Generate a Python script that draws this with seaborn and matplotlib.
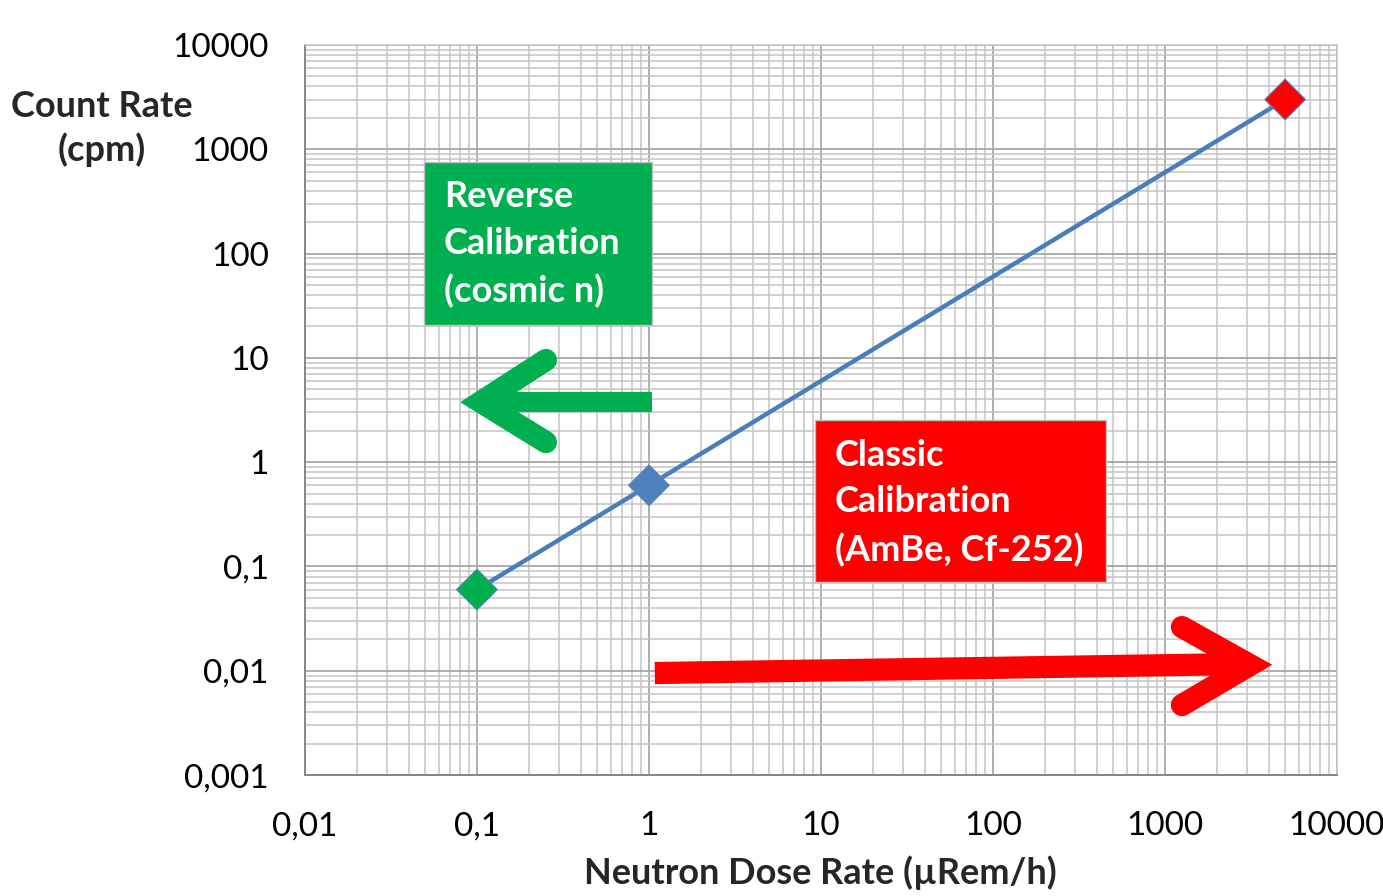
import matplotlib
matplotlib.use("Agg")
import matplotlib.pyplot as plt
import seaborn as sns
import pandas as pd
import numpy as np

# data
dose_rate = [0.1, 1, 5000]          # µRem/h
count_rate = [0.06, 0.6, 3000]      # cpm
point_kind = ["reverse", "mid", "classic"]
point_colors = {"reverse": "#00B050", "mid": "#4F81BD", "classic": "#FF0000"}

x_ticks = [0.01, 0.1, 1, 10, 100, 1000, 10000]
x_labels = ["0,01", "0,1", "1", "10", "100", "1000", "10000"]
y_ticks = [0.001, 0.01, 0.1, 1, 10, 100, 1000, 10000]
y_labels = ["0,001", "0,01", "0,1", "1", "10", "100", "1000", "10000"]

sns.set_style("white")
plt.rcParams["font.family"] = ["Lato", "DejaVu Sans"]

df = pd.DataFrame({"dose": dose_rate, "count": count_rate, "kind": point_kind})

fig = plt.figure(figsize=(13.83, 8.96), dpi=100)
ax = fig.add_axes([0.2205, 0.135, 0.7462, 0.8148])
ax.set_xscale("log")
ax.set_yscale("log")
ax.set_xlim(0.01, 10000)
ax.set_ylim(0.001, 10000)

# grid
ax.minorticks_on()
ax.grid(which="minor", color="#C4C4C4", linewidth=1.1)
ax.grid(which="major", color="#A8A8A8", linewidth=1.3)
ax.set_axisbelow(True)

sns.lineplot(data=df, x="dose", y="count", ax=ax, color="#4A7EBB", linewidth=3.2, zorder=3)
sns.scatterplot(data=df, x="dose", y="count", hue="kind", palette=point_colors, marker="D",
                s=430, edgecolor="#5B7FB5", linewidth=0.8, legend=False, ax=ax, zorder=4)

ax.set_xticks(x_ticks, x_labels)
ax.set_yticks(y_ticks, y_labels)
ax.tick_params(which="minor", length=0)
ax.tick_params(which="major", direction="out", length=8, width=1.3, color="#868686",
               labelsize=24, colors="#868686", labelcolor="black")
ax.tick_params(axis="x", pad=18)
ax.tick_params(axis="y", pad=18)
ax.set_xlabel("")
ax.set_ylabel("")
for side in ["left", "bottom"]:
    ax.spines[side].set_color("#868686")
    ax.spines[side].set_linewidth(1.4)
for side in ["top", "right"]:
    ax.spines[side].set_color("#C4C4C4")
    ax.spines[side].set_linewidth(1.1)

# annotation boxes
ax.add_patch(plt.Rectangle((0.1153, 0.6164), 0.2209, 0.2233, transform=ax.transAxes,
                           facecolor="#00B050", edgecolor="#BFBFBF", linewidth=1, zorder=5))
ax.text(0.1347, 0.727, "Reverse\nCalibration\n(cosmic n)", transform=ax.transAxes,
        color="white", fontsize=26, fontweight="bold", ha="left", va="center",
        linespacing=1.5, zorder=6)
ax.add_patch(plt.Rectangle((0.4942, 0.2644), 0.2820, 0.2219, transform=ax.transAxes,
                           facecolor="#FF0000", edgecolor="#BFBFBF", linewidth=1, zorder=5))
ax.text(0.5136, 0.373, "Classic\nCalibration\n(AmBe, Cf-252)", transform=ax.transAxes,
        color="white", fontsize=26, fontweight="bold", ha="left", va="center",
        linespacing=1.5, zorder=6)

# arrows
ax.plot([0.336, 0.18], [0.511, 0.511], transform=ax.transAxes, color="#00B050",
        linewidth=14.5, solid_capstyle="butt", zorder=5)
ax.plot([0.2335, 0.1705, 0.2335], [0.5685, 0.511, 0.456], transform=ax.transAxes,
        color="#00B050", linewidth=16, solid_capstyle="round", solid_joinstyle="miter", zorder=5)
ax.plot([0.339, 0.905], [0.1397, 0.152], transform=ax.transAxes, color="#FF0000",
        linewidth=16, solid_capstyle="butt", zorder=5)
ax.plot([0.8498, 0.9157, 0.8498], [0.2027, 0.1507, 0.0959], transform=ax.transAxes,
        color="#FF0000", linewidth=16, solid_capstyle="round", solid_joinstyle="miter", zorder=5)

# axis titles
fig.text(0.593, 0.026, "Neutron Dose Rate (µRem/h)", fontsize=26, fontweight="bold",
         ha="center", va="center")
fig.text(0.0738, 0.8566, "Count Rate\n(cpm)", fontsize=26, fontweight="bold",
         ha="center", va="center", linespacing=1.35)

fig.savefig("out.png", dpi=100)
